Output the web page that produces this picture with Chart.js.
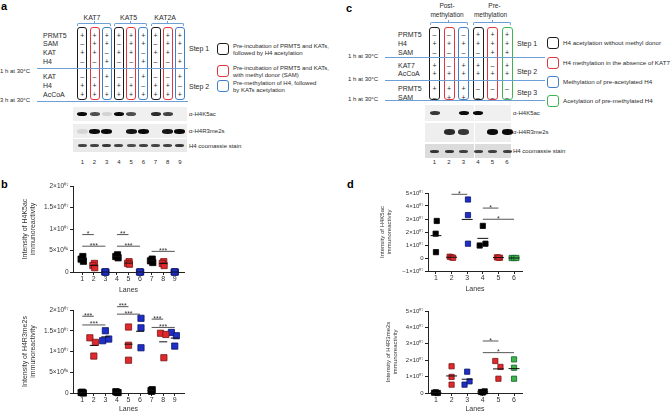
<!DOCTYPE html>
<html>
<head>
<meta charset="utf-8">
<script src="https://cdn.jsdelivr.net/npm/chart.js@4.4.1/dist/chart.umd.min.js"></script>
<style>
  body { margin: 0; background: #fff; }
  #fig { position: relative; width: 671px; height: 413px; overflow: hidden; font-family: "Liberation Sans", Arial, sans-serif; color: #2a2a2a; }
  #fig canvas { position: absolute; }
  .t { position: absolute; white-space: nowrap; line-height: 1; }
  .abs { position: absolute; box-sizing: border-box; }
</style>
</head>
<body>
<div id="fig"></div>
<script>
// ---------- panel a: schematic + blot ----------
const A_GROUPS = ['KAT7', 'KAT5', 'KAT2A'];
const A_ROWS = ['PRMT5', 'SAM', 'KAT', 'H4', 'KAT', 'H4', 'AcCoA'];
const A_SIGNS = ['+++++++++', '–++–++–++', '++–++–++–', '––+––+––+', '––+––+––+', '++–++–++–', '+++++++++'];
const A_BOXES = ['k', 'r', 'b', 'k', 'r', 'b', 'k', 'r', 'b'];
const A_LEGEND = [
  ['Pre-incubation of PRMT5 and KATs,', 'followed by H4 acetylation'],
  ['Pre-incubation of PRMT5 and KATs,', 'with methyl donor (SAM)'],
  ['Pre-methylation of H4, followed', 'by KATs acetylation']
];
const A_BLOTS = ['α-H4K5ac', 'α-H4R3me2s', 'H4 coomassie stain'];
const A_BANDS = [
  [1, 0.7, 0.12, 1, 0.7, 0, 0.85, 0.75, 0],
  [0.1, 1, 1, 0, 0.95, 1, 0, 0.95, 1],
  [0.75, 0.75, 0.8, 0.75, 0.7, 0.75, 0.75, 0.75, 0.8]
];

// ---------- panel c: schematic + blot ----------
const C_GROUPS = [['Post-', 'methylation'], ['Pre-', 'methylation']];
const C_ROWS = ['PRMT5', 'H4', 'SAM', 'KAT7', 'AcCoA', 'PRMT5', 'SAM'];
const C_SIGNS = ['–––+++', '++++++', '––––++', '+–++–+', '++++++', '+++–––', '–++–––'];
const C_BOXES = ['k', 'r', 'b', 'k', 'r', 'g'];
const C_LEGEND = ['H4 acetylation without methyl donor', 'H4 methylation in the absence of KAT7',
  'Methylation of pre-acetylated H4', 'Acetylation of pre-methylated H4'];
const C_BLOTS = ['α-H4K5ac', 'α-H4R3me2s', 'H4 coomassie stain'];
const C_BANDS = [
  [0.8, 0, 1, 1, 0, 0],
  [0, 0.85, 0.8, 0, 1, 1],
  [0.8, 0.8, 0.75, 0.75, 0.75, 0.75]
];

// ---------- panel b: scatter data ----------
const B_LANES = [1, 2, 3, 4, 5, 6, 7, 8, 9];
const B_COLORS = ['k', 'r', 'b', 'k', 'r', 'b', 'k', 'r', 'b'];
const B_K5AC = [
  [3.6e6, 3.0e6, 2.5e6], [2.0e6, 1.5e6, 1.0e6], [0, 0, 0],
  [4.0e6, 3.6e6, 3.3e6], [2.4e6, 2.0e6, 1.8e6], [0, 0, 0],
  [3.0e6, 2.6e6, 2.2e6], [2.4e6, 2.0e6, 1.5e6], [0, 0, 0]
];
const B_K5AC_DX = [
  [0.05, -0.1, 0.1], [0.05, -0.08, 0.08], [-0.05, 0.05, 0],
  [0.05, -0.1, 0.1], [0.05, -0.08, 0.08], [-0.05, 0.05, 0],
  [0.05, -0.1, 0.1], [0.05, -0.08, 0.08], [-0.05, 0.05, 0]
];
const B_K5AC_SIG = [[1, 2, 8.7e6, '*'], [1, 3, 6.0e6, '***'], [4, 5, 8.7e6, '**'], [4, 6, 6.0e6, '***'], [7, 9, 4.8e6, '***']];
const B_R3 = [
  [0.1e6, 0, 0.2e6], [13.3e6, 12.2e6, 8.9e6], [15.0e6, 12.6e6, 13.0e6],
  [0.3e6, 0.1e6, 0.2e6], [15.9e6, 11.5e6, 7.9e6], [18.0e6, 15.7e6, 10.9e6],
  [0.6e6, 0.8e6, 0.4e6], [14.4e6, 14.1e6, 8.5e6], [14.6e6, 13.8e6, 11.3e6]
];
const B_R3_DX = [
  [-0.1, 0.1, 0], [-0.34, 0.14, 0], [0, -0.23, 0.29],
  [-0.1, 0.1, 0], [0, 0, 0], [0.08, 0.08, 0.08],
  [-0.05, 0.05, 0], [-0.23, 0.23, 0.06], [-0.29, 0.14, 0]
];
const B_R3_SIG = [[1, 2, 18.5e6, '***'], [1, 3, 16.4e6, '***'], [4, 5, 20.8e6, '***'], [4, 6, 19.0e6, '***'], [7, 8, 17.8e6, '***'], [7, 9, 15.8e6, '***']];
const B_YTICKS = [0, 5e6, 1e7, 1.5e7, 2e7];
const B_YLABELS = ['0', '5×10⁰⁶', '1×10⁰⁷', '1.5×10⁰⁷', '2×10⁰⁷'];

// ---------- panel d: scatter data ----------
const D_LANES = [1, 2, 3, 4, 5, 6];
const D_COLORS = ['k', 'r', 'b', 'k', 'r', 'g'];
const D_K5AC = [
  [2.85e7, 1.87e7, 0.45e7], [0.1e7, 0.05e7, 0.02e7], [4.5e7, 3.3e7, 1.1e7],
  [2.47e7, 0.96e7, 1.1e7], [0.05e7, 0.02e7, 0.03e7], [0, 0, 0]
];
const D_K5AC_DX = [[0.05, -0.02, 0], [-0.12, 0, 0.1], [0.05, 0.05, 0.05], [0, -0.2, 0.17], [-0.1, 0.1, 0], [-0.15, 0, 0.15]];
const D_K5AC_SIG = [[2, 3, 4.9e7, '*'], [4, 5, 3.84e7, '*'], [4, 6, 2.98e7, '*']];
const D_R3 = [
  [0.02e7, 0, 0.04e7], [1.63e7, 0.98e7, 0.51e7], [1.3e7, 0.51e7, 0.71e7],
  [0.06e7, 0.1e7, 0.03e7], [1.95e7, 1.59e7, 0.87e7], [2.05e7, 1.54e7, 0.87e7]
];
const D_R3_DX = [[-0.12, 0.12, 0], [0, 0, 0], [0, -0.17, 0.15], [-0.12, 0.12, 0], [-0.2, 0.13, 0], [0, 0, 0]];
const D_R3_SIG = [[4, 5, 3.17e7, '*'], [4, 6, 2.46e7, '*']];
const D_K5AC_YTICKS = [-1e7, 0, 1e7, 2e7, 3e7, 4e7, 5e7];
const D_K5AC_YLABELS = ['−1×10⁰⁷', '0', '1×10⁰⁷', '2×10⁰⁷', '3×10⁰⁷', '4×10⁰⁷', '5×10⁰⁷'];
const D_R3_YTICKS = [0, 1e7, 2e7, 3e7, 4e7, 5e7];
const D_R3_YLABELS = ['0', '1×10⁰⁷', '2×10⁰⁷', '3×10⁰⁷', '4×10⁰⁷', '5×10⁰⁷'];

// ---------- helpers ----------
const fig = document.getElementById('fig');
const LINE_BLUE = '#6d9fd6';
const BOX = { k: '#1c1c1c', r: '#e2363c', b: '#3f80c8', g: '#3db553' };
const MARK = { k: ['#000', '#000'], r: ['#e0292d', '#7a1414'], b: ['#1e2fc8', '#0b1466'], g: ['#3db54a', '#12602a'] };

function el(cls, css, text) {
  const d = document.createElement('div');
  d.className = cls;
  Object.assign(d.style, css);
  if (text != null) d.textContent = text;
  fig.appendChild(d);
  return d;
}
function label(x, y, s, size, align, extra) {
  const tx = align === 'c' ? '-50%' : align === 'r' ? '-100%' : '0';
  return el('t', Object.assign({ left: x + 'px', top: y + 'px', fontSize: size + 'px', transform: 'translate(' + tx + ',-50%)' }, extra || {}), s);
}
function hline(x1, x2, y) {
  el('abs', { left: x1 + 'px', top: y + 'px', width: (x2 - x1) + 'px', height: '1px', background: LINE_BLUE });
}
function brace(x1, x2, y) {
  el('abs', { left: x1 + 'px', top: y + 'px', width: (x2 - x1) + 'px', height: '3px',
    border: '1px solid ' + LINE_BLUE, borderBottom: 'none', borderRadius: '2px 2px 0 0' });
  el('abs', { left: ((x1 + x2) / 2 - 0.5) + 'px', top: (y - 2) + 'px', width: '1px', height: '2px', background: LINE_BLUE });
}
function rbox(x, y, w, h, color, bw) {
  el('abs', { left: x + 'px', top: y + 'px', width: w + 'px', height: h + 'px', border: bw + 'px solid ' + color, borderRadius: '3px' });
}
function strip(x1, x2, y1, y2, bg) {
  el('abs', { left: x1 + 'px', top: y1 + 'px', width: (x2 - x1) + 'px', height: (y2 - y1) + 'px', background: bg, filter: 'blur(0.4px)' });
}
function band(cx, cy, w, h, a) {
  if (a <= 0) return;
  el('abs', { left: (cx - w / 2) + 'px', top: (cy - h / 2) + 'px', width: w + 'px', height: h + 'px',
    background: '#0a0a0a', opacity: a, borderRadius: '45%', filter: 'blur(0.55px)' });
}

// ---------- draw panel a ----------
label(1, 6, 'a', 11, 'l', { fontWeight: 'bold', color: '#000' });
const aX = i => 82.3 + i * 12.2;
A_GROUPS.forEach((g, k) => {
  label(aX(k * 3 + 1) - 2.5, 17, g, 7, 'c');
  brace(aX(k * 3) - 5, aX(k * 3 + 2) + 4, 23);
});
A_BOXES.forEach((c, i) => rbox(aX(i) - 5, 27, 10, 73, BOX[c], 1.2));
const aRowY = [35, 43, 52, 61, 76, 85, 94];
A_ROWS.forEach((r, k) => {
  label(43, aRowY[k], r, 7, 'l');
  [...A_SIGNS[k]].forEach((s, i) => label(aX(i), aRowY[k], s, 7, 'c'));
});
hline(37, 188, 68);
hline(37, 188, 101);
label(0, 71, '1 h at 30°C', 6, 'l');
label(0, 100, '3 h at 30°C', 6, 'l');
label(189, 48, 'Step 1', 7, 'l');
label(189, 86, 'Step 2', 7, 'l');
const aLegTop = [43, 65, 80];
A_LEGEND.forEach((lines, k) => {
  rbox(217, aLegTop[k], 12, 12, BOX[A_BOXES[k]], 1.3);
  lines.forEach((t, j) => label(233, aLegTop[k] + 3 + j * 6.5, t, 6, 'l'));
});
strip(73, 187, 107, 121, '#f0f0f0');
strip(73, 187, 124, 138, '#eeeeee');
strip(73, 187, 139, 152, '#e9e9e9');
const aBandY = [114, 131, 145.5];
const aBandWH = [[10, 4], [11, 5], [9, 3]];
A_BANDS.forEach((row, k) => row.forEach((a, i) => band(aX(i), aBandY[k], aBandWH[k][0], aBandWH[k][1], a)));
A_BLOTS.forEach((t, k) => label(189, aBandY[k], t, 6, 'l'));
A_BOXES.forEach((c, i) => label(aX(i), 162, String(i + 1), 6, 'c'));

// ---------- draw panel c ----------
label(346, 8, 'c', 11, 'l', { fontWeight: 'bold', color: '#000' });
const cX = i => 434.5 + i * 14.5;
C_GROUPS.forEach((g, k) => {
  const mid = cX(k * 3 + 1);
  label(mid - 2 + k * 4, 6, g[0], 6.5, 'c');
  label(mid - 2, 15, g[1], 6.5, 'c');
  brace(cX(k * 3) - 5, cX(k * 3 + 2) + 4, 22);
});
C_BOXES.forEach((c, i) => rbox(cX(i) - 5.5, 27, 11, 73, BOX[c], 1.2));
const cRowY = [34, 43, 52, 65, 73, 88, 97];
C_ROWS.forEach((r, k) => {
  label(398, cRowY[k], r, 7, 'l');
  [...C_SIGNS[k]].forEach((s, i) => label(cX(i), cRowY[k], s, 7, 'c'));
});
[57, 80, 100].forEach(y => {
  hline(385, 545, y);
  label(348, y - 1.5, '1 h at 30°C', 6, 'l');
});
label(517, 43, 'Step 1', 7, 'l');
label(517, 71, 'Step 2', 7, 'l');
label(517, 92, 'Step 3', 7, 'l');
const cLegTop = [37, 57, 76, 95];
C_LEGEND.forEach((t, k) => {
  rbox(547, cLegTop[k], 12, 12, BOX[C_BOXES[k === 3 ? 5 : k]], 1.3);
  label(563, cLegTop[k] + 6, t, 6.2, 'l');
});
strip(425, 511, 105, 121, '#f0f0f0');
strip(425, 511, 123, 142, '#eeeeee');
strip(425, 511, 144, 158, '#dcdcdc');
el('abs', { left: '473.5px', top: '105px', width: '1px', height: '53px', background: '#fff' });
const cBandY = [113, 132, 151];
const cBandWH = [[10, 4], [11, 5.5], [9, 3]];
C_BANDS.forEach((row, k) => row.forEach((a, i) => band(cX(i), cBandY[k], cBandWH[k][0], cBandWH[k][1], a)));
C_BLOTS.forEach((t, k) => label(513, cBandY[k], t, 6, 'l'));
C_BOXES.forEach((c, i) => label(cX(i), 162, String(i + 1), 6, 'c'));

label(1, 184, 'b', 11, 'l', { fontWeight: 'bold', color: '#000' });
label(347, 184, 'd', 11, 'l', { fontWeight: 'bold', color: '#000' });

// ---------- scatter charts ----------
Chart.defaults.font.family = '"Liberation Sans", Arial, sans-serif';
Chart.defaults.color = '#333';

function scatterPanel(box, area, o) {
  const cv = document.createElement('canvas');
  cv.width = box.w; cv.height = box.h;
  cv.style.left = box.x + 'px'; cv.style.top = box.y + 'px';
  fig.appendChild(cv);

  const datasets = [];
  o.lanes.forEach((lane, i) => {
    const vals = o.values[i];
    const m = vals.reduce((a, b) => a + b, 0) / vals.length;
    datasets.push({
      data: [{ x: lane - o.meanHalf, y: m }, { x: lane + o.meanHalf, y: m }],
      showLine: true, borderColor: '#111', borderWidth: 1, pointRadius: 0, clip: false
    });
  });
  o.lanes.forEach((lane, i) => {
    const c = MARK[o.colors[i]];
    datasets.push({
      data: o.values[i].map((v, j) => ({ x: lane + o.dx[i][j], y: v })),
      pointStyle: 'rect', pointRadius: o.r, backgroundColor: c[0], borderColor: c[1], borderWidth: 0.8, clip: false
    });
  });
  o.sig.forEach(b => datasets.push({
    data: [{ x: b[0], y: b[2] }, { x: b[1], y: b[2] }],
    showLine: true, borderColor: '#555', borderWidth: 1, pointRadius: 0, clip: false
  }));

  const starPlugin = {
    id: 'stars',
    afterDatasetsDraw(chart) {
      const { ctx, scales: { x, y } } = chart;
      ctx.save();
      ctx.font = '7px "Liberation Sans", Arial, sans-serif';
      ctx.fillStyle = '#333';
      ctx.textAlign = 'center';
      ctx.textBaseline = 'alphabetic';
      o.sig.forEach(b => ctx.fillText(b[3], x.getPixelForValue((b[0] + b[1]) / 2), y.getPixelForValue(b[2]) + 1.5));
      ctx.restore();
    }
  };

  new Chart(cv, {
    type: 'scatter',
    data: { datasets },
    options: {
      responsive: false,
      animation: false,
      layout: { padding: { left: 0, top: area.y1 - box.y, right: box.x + box.w - area.x2, bottom: box.y + box.h - area.y2 - o.xH } },
      plugins: { legend: { display: false }, tooltip: { enabled: false } },
      scales: {
        x: {
          type: 'linear', min: o.xMin, max: o.xMax,
          afterFit: s => { s.height = o.xH; },
          afterBuildTicks: s => { s.ticks = o.lanes.map(v => ({ value: v })); },
          ticks: { padding: 0, font: { size: 7 }, callback: v => v },
          grid: { drawOnChartArea: false, tickLength: 3, color: '#222' },
          border: { color: '#222' },
          title: { display: true, text: 'Lanes', font: { size: 7 }, padding: 0 }
        },
        y: {
          min: o.yMin, max: o.yMax,
          afterFit: s => { s.width = area.x1 - box.x; },
          afterBuildTicks: s => { s.ticks = o.yTicks.map(v => ({ value: v })); },
          ticks: { padding: 1.5, font: { size: o.yTickSize }, callback: (v, i) => o.yLabels[i] },
          grid: { drawOnChartArea: false, tickLength: 3, color: '#222' },
          border: { color: '#222' },
          title: { display: true, text: o.yTitle, font: { size: o.yTitleSize, lineHeight: o.yTitleLH }, padding: { top: o.yTitlePad, bottom: 0 } }
        }
      }
    },
    plugins: [starPlugin]
  });
}

const bCommon = { lanes: B_LANES, colors: B_COLORS, xMin: 0.2, xMax: 9.8, r: 4.4, meanHalf: 0.35,
  yMin: 0, yMax: 2e7, yTicks: B_YTICKS, yLabels: B_YLABELS, yTickSize: 6.5, yTitleSize: 7, yTitleLH: 1.15, yTitlePad: 21 };

scatterPanel({ x: 0, y: 180, w: 200, h: 115 }, { x1: 73, y1: 186, x2: 184, y2: 272 },
  Object.assign({}, bCommon, { values: B_K5AC, dx: B_K5AC_DX, sig: B_K5AC_SIG, xH: 22,
    yTitle: ['Intensity of H4K5ac', 'immunoreactivity'] }));

scatterPanel({ x: 0, y: 295, w: 200, h: 118 }, { x1: 73, y1: 310, x2: 184, y2: 393 },
  Object.assign({}, bCommon, { values: B_R3, dx: B_R3_DX, sig: B_R3_SIG, xH: 20,
    yTitle: ['Intensity of H4R3me2s', 'immunoreactivity'] }));

scatterPanel({ x: 360, y: 180, w: 175, h: 115 }, { x1: 428, y1: 193, x2: 522, y2: 271 },
  { lanes: D_LANES, colors: D_COLORS, values: D_K5AC, dx: D_K5AC_DX, sig: D_K5AC_SIG, xMin: 0.49, xMax: 6.51,
    r: 3.7, meanHalf: 0.35, xH: 22, yMin: -1e7, yMax: 5e7, yTicks: D_K5AC_YTICKS, yLabels: D_K5AC_YLABELS,
    yTickSize: 6, yTitle: ['Intensity of H4K5ac', 'immunoreactivity'], yTitleSize: 6, yTitleLH: 1.1, yTitlePad: 19 });

scatterPanel({ x: 360, y: 295, w: 175, h: 118 }, { x1: 428, y1: 311, x2: 522, y2: 393 },
  { lanes: D_LANES, colors: D_COLORS, values: D_R3, dx: D_R3_DX, sig: D_R3_SIG, xMin: 0.49, xMax: 6.51,
    r: 3.7, meanHalf: 0.35, xH: 20, yMin: 0, yMax: 5e7, yTicks: D_R3_YTICKS, yLabels: D_R3_YLABELS,
    yTickSize: 6, yTitle: ['Intensity of H4R3me2s', 'immunoreactivity'], yTitleSize: 6, yTitleLH: 1.3, yTitlePad: 24 });
</script>
</body>
</html>
